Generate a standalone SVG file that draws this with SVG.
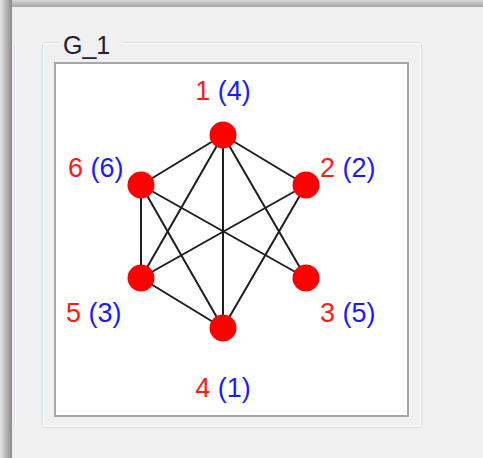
<svg xmlns="http://www.w3.org/2000/svg" width="483" height="458" viewBox="0 0 483 458">
<style>
  .edge { stroke: #1e1e1e; stroke-width: 2; stroke-linecap: round; }
  .node { fill: #ff0000; }
  .lbl { font-family: "Liberation Sans", Arial, sans-serif; font-size: 27px; }
  .id { fill: #ff1a1a; }
  .ord { fill: #1a1aff; }
  .title { font-family: "Liberation Sans", Arial, sans-serif; font-size: 25px; fill: #222233; }
</style>
<defs>
  <linearGradient id="shT" x1="0" y1="0" x2="0" y2="1">
    <stop offset="0" stop-color="#d8d8d8"/>
    <stop offset="1" stop-color="#a4a4a4"/>
  </linearGradient>
  <linearGradient id="shL" x1="0" y1="0" x2="1" y2="0">
    <stop offset="0" stop-color="#e4e4e4"/>
    <stop offset="1" stop-color="#8a8a8a"/>
  </linearGradient>
</defs>
<rect x="0" y="0" width="483" height="458" fill="#f0f0f0"/>
<rect x="0" y="0" width="483" height="7" fill="url(#shT)"/>
<rect x="0" y="0" width="12" height="458" fill="url(#shL)"/>

<!-- neighbouring frame edge -->
<line x1="14.5" y1="43" x2="14.5" y2="426" stroke="#d3dde4" stroke-width="1"/>
<line x1="15.5" y1="43" x2="15.5" y2="426" stroke="#ffffff" stroke-width="1"/>

<!-- group box -->
<g id="group">
  <rect x="42.5" y="42.5" width="379" height="385" rx="3" fill="none" stroke="#d3dde4" stroke-width="1"/>
  <rect x="43.5" y="43.5" width="377" height="383" rx="2" fill="none" stroke="#ffffff" stroke-width="1"/>
  <rect x="58" y="36" width="64" height="12" fill="#f0f0f0"/>
  <text class="title" x="63" y="54">G_1</text>
</g>

<!-- canvas -->
<rect x="55" y="63" width="353" height="353" fill="#ffffff" stroke="#a6a6a6" stroke-width="2"/>

<g id="connectors">
  <line class="edge" x1="223" y1="135" x2="306" y2="185"/>
  <line class="edge" x1="223" y1="135" x2="306" y2="278"/>
  <line class="edge" x1="223" y1="135" x2="223" y2="328"/>
  <line class="edge" x1="223" y1="135" x2="141" y2="278"/>
  <line class="edge" x1="223" y1="135" x2="141" y2="185"/>
  <line class="edge" x1="306" y1="185" x2="223" y2="328"/>
  <line class="edge" x1="306" y1="185" x2="141" y2="278"/>
  <line class="edge" x1="306" y1="278" x2="141" y2="185"/>
  <line class="edge" x1="223" y1="328" x2="141" y2="278"/>
  <line class="edge" x1="223" y1="328" x2="141" y2="185"/>
  <line class="edge" x1="141" y1="278" x2="141" y2="185"/>
</g>

<g id="node1">
  <circle class="node" cx="223" cy="135" r="13.5"/>
  <text class="lbl" x="223" y="100" text-anchor="middle"><tspan class="id">1</tspan><tspan class="ord"> (4)</tspan></text>
</g>
<g id="node2">
  <circle class="node" cx="306" cy="185" r="13.5"/>
  <text class="lbl" x="320" y="177"><tspan class="id">2</tspan><tspan class="ord"> (2)</tspan></text>
</g>
<g id="node3">
  <circle class="node" cx="306" cy="278" r="13.5"/>
  <text class="lbl" x="320" y="322"><tspan class="id">3</tspan><tspan class="ord"> (5)</tspan></text>
</g>
<g id="node4">
  <circle class="node" cx="223" cy="328" r="13.5"/>
  <text class="lbl" x="223" y="397" text-anchor="middle"><tspan class="id">4</tspan><tspan class="ord"> (1)</tspan></text>
</g>
<g id="node5">
  <circle class="node" cx="141" cy="278" r="13.5"/>
  <text class="lbl" x="66" y="322"><tspan class="id">5</tspan><tspan class="ord"> (3)</tspan></text>
</g>
<g id="node6">
  <circle class="node" cx="141" cy="185" r="13.5"/>
  <text class="lbl" x="68" y="177"><tspan class="id">6</tspan><tspan class="ord"> (6)</tspan></text>
</g>
</svg>
